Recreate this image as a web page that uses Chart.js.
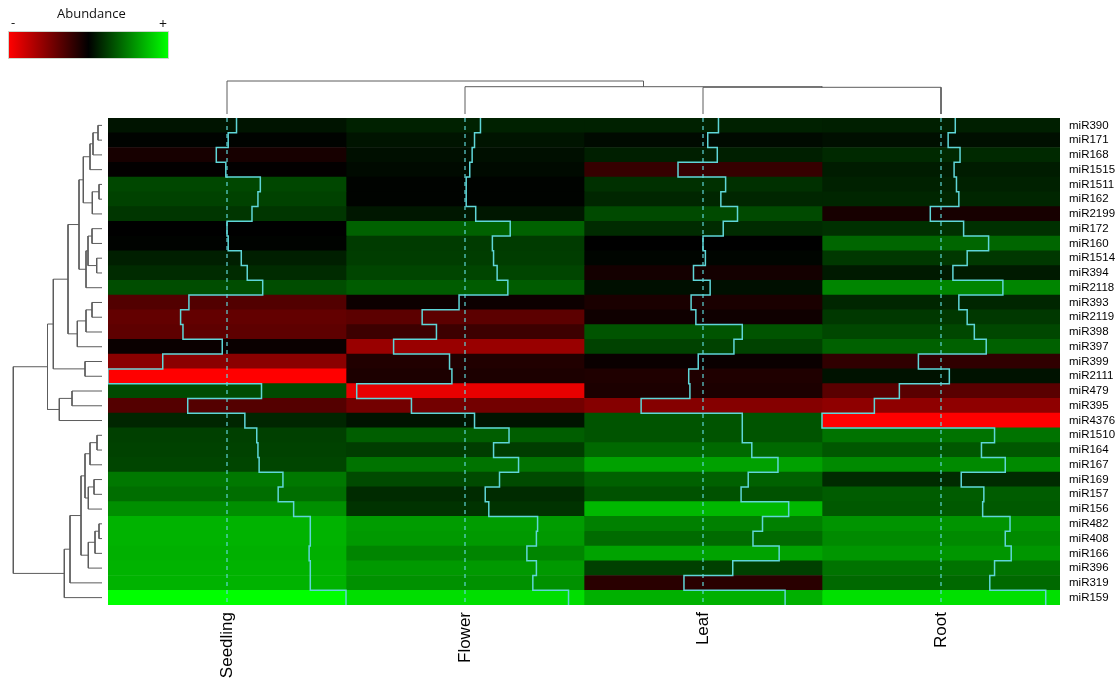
<!DOCTYPE html>
<html>
<head>
<meta charset="utf-8">
<script src="https://cdn.jsdelivr.net/npm/chart.js@4.4.1/dist/chart.umd.min.js"></script>
<style>
  html, body { margin: 0; padding: 0; background: #fff; }
  #wrap { position: relative; width: 1116px; height: 682px; overflow: hidden; background: #fff; }
  #wrap canvas { position: absolute; left: 0; top: 0; }
  .key { position: absolute; left: 8px; top: 31px; width: 159px; height: 26px;
         border: 1px solid #cdd6cd;
         background: linear-gradient(to right, #ff0000 0%, #000000 50%, #00ff00 100%); }
  .kt { position: absolute; font-family: "Open Sans", "Liberation Sans", sans-serif; color: #111; line-height: 1; }
</style>
</head>
<body>
<div id="wrap">
  <canvas id="heat" width="1116" height="682"></canvas>
  <canvas id="colTree" width="1116" height="118"></canvas>
  <canvas id="rowTree" width="108" height="682"></canvas>
  <div class="kt" style="left:57px;top:7px;font-size:13px;">Abundance</div>
  <div class="kt" style="left:11px;top:16px;font-size:13px;">-</div>
  <div class="kt" style="left:159px;top:17px;font-size:14px;">+</div>
  <div class="key"></div>
</div>
<script>
// ---- data -------------------------------------------------------------
const tissues = ['Seedling', 'Flower', 'Leaf', 'Root'];

const mirnas = ['miR390', 'miR171', 'miR168', 'miR1515', 'miR1511', 'miR162', 'miR2199',
  'miR172', 'miR160', 'miR1514', 'miR394', 'miR2118', 'miR393', 'miR2119', 'miR398',
  'miR397', 'miR399', 'miR2111', 'miR479', 'miR395', 'miR4376', 'miR1510', 'miR164',
  'miR167', 'miR169', 'miR157', 'miR156', 'miR482', 'miR408', 'miR166', 'miR396',
  'miR319', 'miR159'];

// scaled abundance per tissue (-1 = lowest, +1 = highest), rows in the order above
const seedling = [0.08, 0.01, -0.09, -0.01, 0.28, 0.26, 0.21, 0.00, 0.01, 0.12, 0.17,
  0.30, -0.32, -0.39, -0.37, -0.04, -0.54, -1.00, 0.29, -0.33, 0.15, 0.25, 0.26, 0.27,
  0.47, 0.43, 0.56, 0.70, 0.70, 0.69, 0.70, 0.70, 1.00];
const flower = [0.13, 0.08, 0.06, 0.04, 0.01, 0.01, 0.09, 0.38, 0.23, 0.24, 0.27,
  0.36, -0.05, -0.36, -0.24, -0.60, -0.13, -0.11, -0.91, -0.45, 0.08, 0.37, 0.24, 0.45,
  0.29, 0.17, 0.20, 0.61, 0.60, 0.52, 0.60, 0.57, 0.87];
const leaf = [0.13, 0.04, 0.12, -0.21, 0.19, 0.15, 0.29, 0.17, 0.00, 0.02, -0.08,
  0.06, -0.10, -0.06, 0.33, 0.26, -0.04, -0.12, -0.11, -0.52, 0.33, 0.33, 0.41, 0.63,
  0.38, 0.32, 0.72, 0.50, 0.42, 0.64, 0.25, -0.16, 0.69];
const root = [0.12, 0.06, 0.16, 0.11, 0.13, 0.15, -0.09, 0.19, 0.40, 0.22, 0.10,
  0.52, 0.15, 0.22, 0.28, 0.38, -0.19, 0.07, -0.35, -0.56, -1.00, 0.45, 0.34, 0.54,
  0.17, 0.36, 0.35, 0.58, 0.54, 0.59, 0.45, 0.41, 0.88];

// hierarchical clustering of the miRNAs (hclust-style merge table:
// negative = row number, positive = earlier merge step)
const rowMergeLeft   = [-5, -28, -1, -22, -10, 2, -25, 3, 1, -8, -13, 8, 4, 7, 6, 10,
  16, 11, -17, 13, 12, 20, 21, 18, -19, 22, 23, 26, 25, 27, 30, 31];
const rowMergeRight  = [-6, -29, -2, -23, -11, -30, -26, -3, -7, -9, -14, -4, -24, -27,
  -31, 5, -12, -15, -18, 14, 9, 15, 17, -16, -20, -32, 24, -33, -21, 19, 29, 28];
const rowMergeHeight = [0.30, 0.30, 0.40, 0.50, 0.53, 0.70, 0.80, 0.90, 0.97, 1.00,
  1.00, 1.20, 1.20, 1.37, 1.37, 1.40, 1.60, 1.60, 1.70, 1.70, 1.87, 2.10, 2.30, 2.47,
  3.00, 3.20, 3.40, 3.77, 4.27, 4.87, 5.45, 8.87];

// clustering of the tissues
const colMergeLeft   = [-3, -2, -1];
const colMergeRight  = [-4, 1, 2];
const colMergeHeight = [26.7, 27.3, 33.0];

// ---- helpers ----------------------------------------------------------
const columnValues = [seedling, flower, leaf, root];
const TRACE = '#5fd6d8';
const TREE = '#5c5c5c';
const FONT = '"Liberation Sans", Arial, Helvetica, sans-serif';

function cellColour(v) {
  const a = Math.round(Math.min(1, Math.abs(v)) * 255);
  return v < 0 ? `rgb(${a},0,0)` : `rgb(0,${a},0)`;
}

// dendrogram as one broken polyline: {pos, h} pairs, gaps between merges
function dendrogram(left, right, height, toPoint) {
  const pos = [], h = [];
  const node = ref => ref < 0 ? { p: -ref - 1, h: 0 } : { p: pos[ref - 1], h: h[ref - 1] };
  const pts = [];
  for (let i = 0; i < left.length; i++) {
    const a = node(left[i]), b = node(right[i]), H = height[i];
    pos.push((a.p + b.p) / 2); h.push(H);
    pts.push(toPoint(a.p, a.h), toPoint(a.p, H), toPoint(b.p, H), toPoint(b.p, b.h),
             { x: NaN, y: NaN });
  }
  return pts;
}

// ---- heatmap with trace lines -----------------------------------------
const cellSets = columnValues.map((vals, c) => ({
  type: 'bar',
  indexAxis: 'y',
  label: tissues[c],
  data: vals.map(() => [c, c + 1]),
  backgroundColor: vals.map(cellColour),
  borderWidth: 0,
  barPercentage: 1,
  categoryPercentage: 1,
  grouped: false,
  xAxisID: 'x',
  yAxisID: 'y',
  order: 3
}));

const centreSets = tissues.map((t, c) => ({
  type: 'line',
  data: [{ x: c + 0.5, y: -0.5 }, { x: c + 0.5, y: mirnas.length - 0.5 }],
  borderColor: TRACE,
  borderWidth: 1.2,
  borderDash: [4, 4],
  pointRadius: 0,
  fill: false,
  xAxisID: 'x',
  yAxisID: 'yt',
  order: 2
}));

const traceSets = columnValues.map((vals, c) => {
  const pts = [];
  vals.forEach((v, r) => {
    const x = c + 0.5 + v * 0.5;
    pts.push({ x, y: r - 0.5 }, { x, y: r + 0.5 });
  });
  return {
    type: 'line',
    data: pts,
    borderColor: TRACE,
    borderWidth: 1.5,
    pointRadius: 0,
    tension: 0,
    fill: false,
    xAxisID: 'x',
    yAxisID: 'yt',
    order: 1
  };
});

new Chart(document.getElementById('heat'), {
  type: 'bar',
  data: { labels: mirnas, datasets: [...cellSets, ...centreSets, ...traceSets] },
  options: {
    responsive: false,
    animation: false,
    events: [],
    layout: { padding: { left: 108, top: 118, right: 0, bottom: 0 } },
    plugins: { legend: { display: false }, tooltip: { enabled: false } },
    scales: {
      x: {
        type: 'linear', position: 'bottom', min: 0, max: 4, offset: false,
        grid: { display: false, drawTicks: false, offset: false }, border: { display: false },
        afterBuildTicks: s => { s.ticks = tissues.map((_, i) => ({ value: i + 0.5 })); },
        afterFit: s => { s.height = 77; s.paddingLeft = 0; s.paddingRight = 0; },
        ticks: {
          autoSkip: false, minRotation: 90, maxRotation: 90, padding: 7,
          color: '#000', font: { family: FONT, size: 17 },
          callback: v => tissues[Math.floor(v)]
        }
      },
      y: {
        type: 'category', position: 'right', offset: true,
        grid: { display: false, drawTicks: false }, border: { display: false },
        afterFit: s => { s.width = 56; s.paddingTop = 0; s.paddingBottom = 0; },
        ticks: { autoSkip: false, padding: 9, color: '#000', font: { family: FONT, size: 11.5 } }
      },
      yt: { type: 'linear', display: false, min: -0.5, max: mirnas.length - 0.5, reverse: true }
    }
  }
});

// ---- row dendrogram (left) ---------------------------------------------
new Chart(document.getElementById('rowTree'), {
  type: 'line',
  data: {
    datasets: [{
      data: dendrogram(rowMergeLeft, rowMergeRight, rowMergeHeight, (p, h) => ({ x: h, y: p })),
      borderColor: TREE, borderWidth: 1, pointRadius: 0, tension: 0, fill: false, spanGaps: false
    }]
  },
  options: {
    responsive: false, animation: false, events: [],
    layout: { padding: { left: 2, right: 6, top: 118, bottom: 77 } },
    plugins: { legend: { display: false }, tooltip: { enabled: false } },
    scales: {
      x: { type: 'linear', display: false, min: 0, max: 10, reverse: true },
      y: { type: 'linear', display: false, min: -0.5, max: mirnas.length - 0.5, reverse: true }
    }
  }
});

// ---- column dendrogram (top) -------------------------------------------
new Chart(document.getElementById('colTree'), {
  type: 'line',
  data: {
    datasets: [{
      data: dendrogram(colMergeLeft, colMergeRight, colMergeHeight, (p, h) => ({ x: p + 0.5, y: h })),
      borderColor: TREE, borderWidth: 1, pointRadius: 0, tension: 0, fill: false, spanGaps: false
    }]
  },
  options: {
    responsive: false, animation: false, events: [],
    layout: { padding: { left: 108, right: 56, top: 74, bottom: 4 } },
    plugins: { legend: { display: false }, tooltip: { enabled: false } },
    scales: {
      x: { type: 'linear', display: false, min: 0, max: 4 },
      y: { type: 'linear', display: false, min: 0, max: 40 }
    }
  }
});
</script>
</body>
</html>
